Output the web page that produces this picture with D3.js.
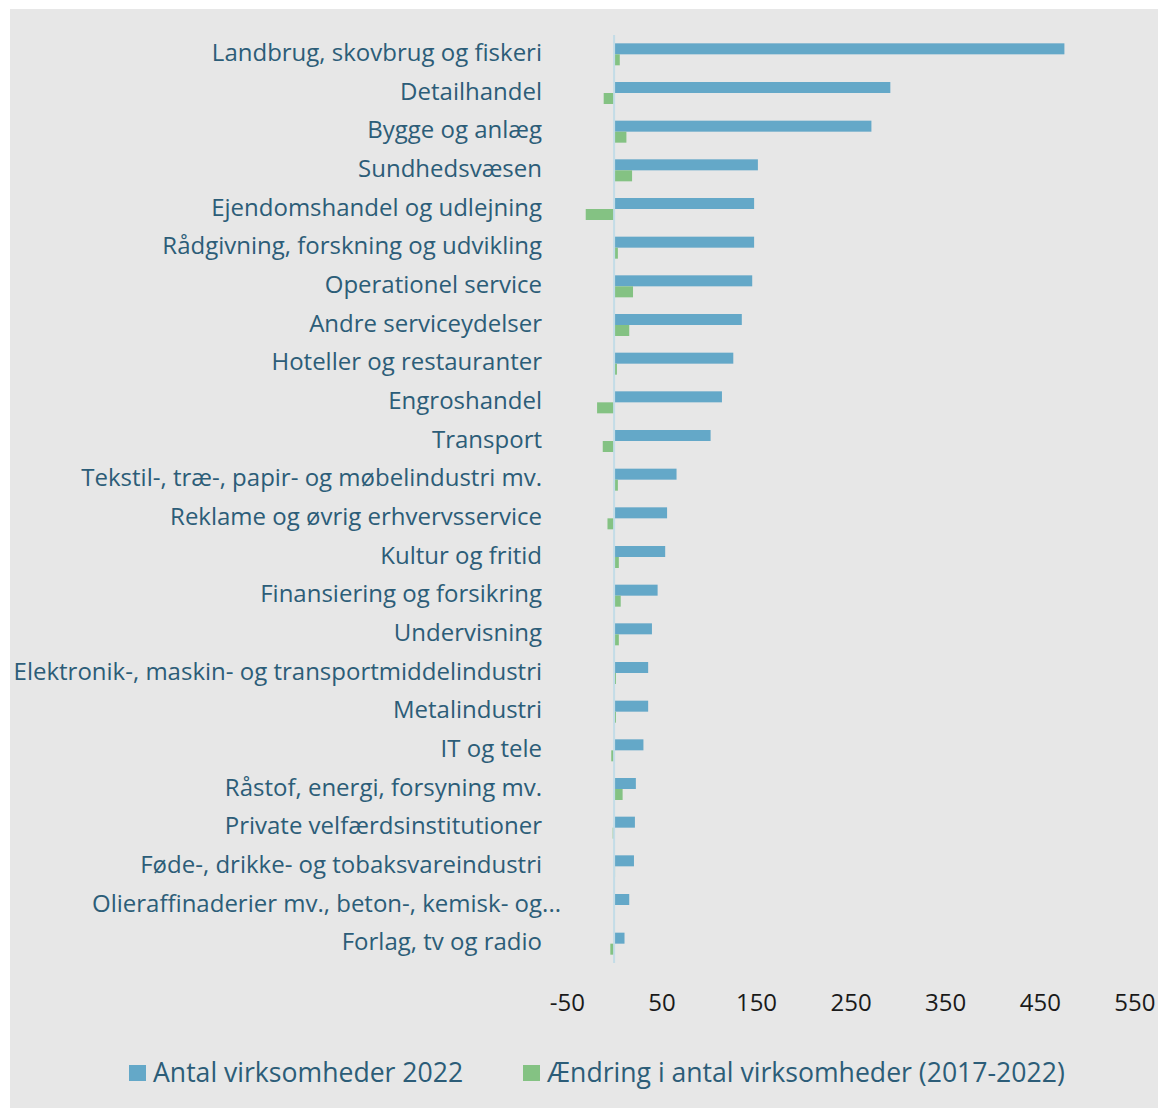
<!DOCTYPE html>
<head>
  <meta charset="utf-8">
  <script src="https://cdn.jsdelivr.net/npm/d3@7"></script>
  <style>
    body { margin: 0; background: #fff; }
    text { font-family: "Open Sans", sans-serif; }
  </style>
</head>
<body>
<svg width="1158" height="1108"></svg>

<script type="text/javascript">

// brancher, sorted as in the chart (top to bottom)
var categories = [
  "Landbrug, skovbrug og fiskeri",
  "Detailhandel",
  "Bygge og anlæg",
  "Sundhedsvæsen",
  "Ejendomshandel og udlejning",
  "Rådgivning, forskning og udvikling",
  "Operationel service",
  "Andre serviceydelser",
  "Hoteller og restauranter",
  "Engroshandel",
  "Transport",
  "Tekstil-, træ-, papir- og møbelindustri mv.",
  "Reklame og øvrig erhvervsservice",
  "Kultur og fritid",
  "Finansiering og forsikring",
  "Undervisning",
  "Elektronik-, maskin- og transportmiddelindustri",
  "Metalindustri",
  "IT og tele",
  "Råstof, energi, forsyning mv.",
  "Private velfærdsinstitutioner",
  "Føde-, drikke- og tobaksvareindustri",
  "Olieraffinaderier mv., beton-, kemisk- og...",
  "Forlag, tv og radio"
];

// Antal virksomheder 2022
var antal2022 = [476, 292, 272, 152, 148, 148, 146, 135, 126, 114, 102, 66,
                 56, 54, 46, 40, 36, 36, 31, 23, 22, 21, 16, 11];

// Ændring i antal virksomheder (2017-2022)
var aendring = [6, -11, 13, 19, -30, 4, 20, 16, 3, -18, -12, 4,
                -7, 5, 7, 5, 2, 2, -3, 9, -1.5, 1, 0, -4];

var tickValues = [-50, 50, 150, 250, 350, 450, 550];

var legendLabels = ["Antal virksomheder 2022", "Ændring i antal virksomheder (2017-2022)"];

var blue = "#64a8c8", green = "#84c283", labelColor = "#2c5d78";

var svg = d3.select("svg");

// grey chart area
svg.append("rect")
    .attr("x", 10).attr("y", 9)
    .attr("width", 1148).attr("height", 1099)
    .style("fill", "#e7e7e7");

var x = d3.scaleLinear().domain([-50, 550]).range([566.8, 1134.4]);
var y = d3.scaleBand().domain(categories).range([35, 963]);
var barH = 11;

// blue bars
svg.selectAll(".bar2022")
    .data(categories)
  .enter()
  .append("rect")
    .attr("class", "bar2022")
    .attr("x", function(d, i) { return x(Math.min(0, antal2022[i])); })
    .attr("y", function(d) { return y(d) + y.bandwidth() / 2 - barH; })
    .attr("width", function(d, i) { return Math.abs(x(antal2022[i]) - x(0)); })
    .attr("height", barH)
    .style("fill", blue);

// green bars
svg.selectAll(".barChange")
    .data(categories)
  .enter()
  .append("rect")
    .attr("class", "barChange")
    .attr("x", function(d, i) { return x(Math.min(0, aendring[i])); })
    .attr("y", function(d) { return y(d) + y.bandwidth() / 2; })
    .attr("width", function(d, i) { return Math.abs(x(aendring[i]) - x(0)); })
    .attr("height", barH)
    .style("fill", green);

// zero line
svg.append("line")
    .attr("x1", x(0)).attr("x2", x(0))
    .attr("y1", 35).attr("y2", 963)
    .style("stroke", "#c3dce7")
    .style("stroke-width", 2);

// category labels
svg.selectAll(".catLabel")
    .data(categories)
  .enter()
  .append("text")
    .attr("class", "catLabel")
    .attr("x", function(d, i) { return i == 22 ? 561 : 542; })
    .attr("y", function(d) { return y(d) + y.bandwidth() / 2 + 6.5; })
    .attr("text-anchor", "end")
    .text(function(d) { return d; })
    .style("font-size", "24px")
    .style("fill", labelColor);

// x axis, plain hyphen for the minus like the original
var xAxis = svg.append("g")
    .attr("transform", "translate(0,994)")
    .call(d3.axisBottom(x).tickValues(tickValues).tickSize(0).tickPadding(0)
      .tickFormat(function(d) { return String(d); }));
xAxis.select(".domain").remove();
xAxis.selectAll("text")
    .style("font-family", "'Open Sans', sans-serif")
    .style("font-size", "24px")
    .style("fill", "#1a1a1a");

// legend
var legendX = [129, 523];
var legendColors = [blue, green];
var legend = svg.selectAll(".legend")
    .data(legendLabels)
  .enter()
  .append("g")
    .attr("class", "legend")
    .attr("transform", function(d, i) { return "translate(" + legendX[i] + ",1065)"; });
legend.append("rect")
    .attr("width", 17).attr("height", 16)
    .style("fill", function(d, i) { return legendColors[i]; });
legend.append("text")
    .attr("x", 24).attr("y", 17)
    .text(function(d) { return d; })
    .style("font-size", "26.6px")
    .style("fill", labelColor);
</script>

</body>
</html>
